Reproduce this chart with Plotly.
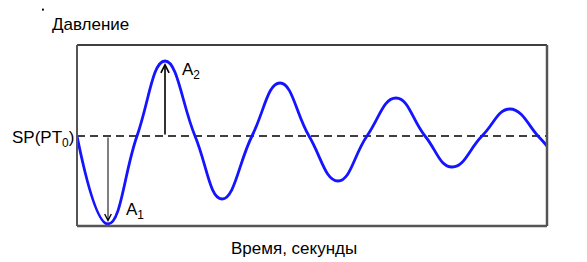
import plotly.graph_objects as go

# time (arbitrary units) and pressure deviation from set point
time_vals = [0, 31, 60, 88, 118, 145, 175, 203, 232, 261, 290, 319, 348, 375, 405, 433, 461, 470]
pressure_vals = [0, -88, 0, 75, 0, -63, 0, 53, 0, -45, 0, 38, 0, -31, 0, 27, 0, -10]

sp_value = 0
a1_time, a1_value = 31, -86
a2_time, a2_value = 88, 73

x_range = [0, 470]
y_range = [-90, 91]

FONT = "Liberation Sans, Arial, sans-serif"
FS = 17

fig = go.Figure()

# set point dashed line
fig.add_trace(go.Scatter(
    x=x_range, y=[sp_value, sp_value], mode="lines",
    line=dict(color="black", width=1.5, dash="8px,5px"),
    hoverinfo="skip", showlegend=False))

# damped oscillation
fig.add_trace(go.Scatter(
    x=time_vals, y=pressure_vals, mode="lines",
    line=dict(color="#1414ff", width=2.8, shape="spline", smoothing=1.3),
    showlegend=False))

annotations = [
    dict(x=a1_time, y=a1_value, ax=a1_time, ay=sp_value, xref="x", yref="y",
         axref="x", ayref="y", showarrow=True, arrowhead=5, arrowsize=1.3,
         arrowwidth=1, arrowcolor="black", text=""),
    dict(x=a2_time, y=a2_value, ax=a2_time, ay=sp_value, xref="x", yref="y",
         axref="x", ayref="y", showarrow=True, arrowhead=5, arrowsize=1,
         arrowwidth=1.6, arrowcolor="black", text=""),
    dict(x=47, y=-75, xref="x", yref="y", text="A<sub>1</sub>", showarrow=False,
         xanchor="left", yanchor="middle", font=dict(size=FS, color="black", family=FONT)),
    dict(x=103, y=65, xref="x", yref="y", text="A<sub>2</sub>", showarrow=False,
         xanchor="left", yanchor="middle", font=dict(size=FS, color="black", family=FONT)),
    dict(x=-0.002, y=-3, xref="paper", yref="y", text="SP(PT<sub>0</sub>)", showarrow=False,
         xanchor="right", yanchor="middle", font=dict(size=FS, color="black", family=FONT)),
    dict(x=-0.0574, y=1.113, xref="paper", yref="paper", text="Давление", showarrow=False,
         xanchor="left", yanchor="middle", font=dict(size=FS, color="black", family=FONT)),
    dict(x=0.4617, y=-0.124, xref="paper", yref="paper", text="Время, секунды", showarrow=False,
         xanchor="center", yanchor="middle", font=dict(size=FS, color="black", family=FONT)),
]

shapes = [
    # frame: top and left thin black, right and bottom grey shadowed
    dict(type="line", xref="paper", yref="paper", x0=0, x1=1, y0=1, y1=1,
         line=dict(color="black", width=1.5)),
    dict(type="line", xref="paper", yref="paper", x0=0, x1=0, y0=0, y1=1,
         line=dict(color="#555555", width=2)),
    dict(type="line", xref="paper", yref="paper", x0=1, x1=1, y0=0, y1=1,
         line=dict(color="#555555", width=2.5)),
    dict(type="line", xref="paper", yref="paper", x0=0, x1=1, y0=0, y1=0,
         line=dict(color="#555555", width=2.5)),
    # tiny dot top-left
    dict(type="rect", xref="paper", yref="paper", x0=-0.0745, x1=-0.0705,
         y0=1.190, y1=1.201, fillcolor="black", line=dict(width=0)),
]

fig.update_layout(
    width=587, height=262,
    margin=dict(l=77, r=40, t=45, b=36),
    paper_bgcolor="white", plot_bgcolor="white",
    xaxis=dict(range=x_range, visible=False, fixedrange=True),
    yaxis=dict(range=y_range, visible=False, fixedrange=True),
    annotations=annotations, shapes=shapes,
    showlegend=False,
)

fig.write_html("out.html")
